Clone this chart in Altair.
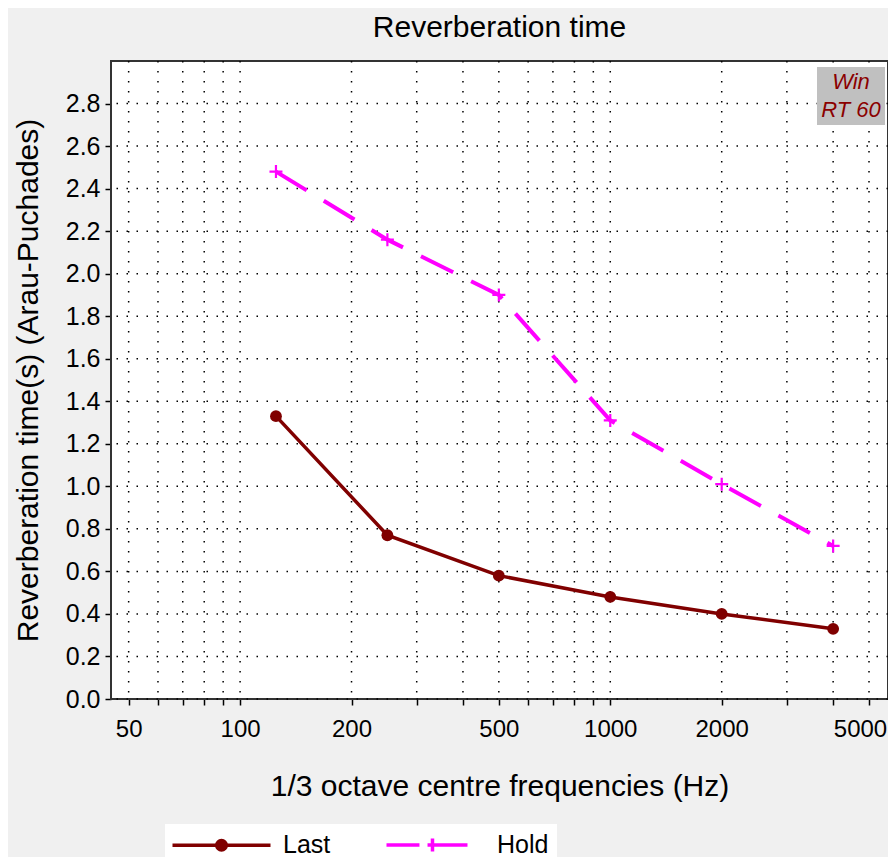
import altair as alt
import pandas as pd

# ---------------- data ----------------
freqs = [125, 250, 500, 1000, 2000, 4000]
last_rt = [1.33, 0.77, 0.58, 0.48, 0.40, 0.33]
hold_rt = [2.48, 2.16, 1.90, 1.31, 1.01, 0.72]
series_names = ["Last", "Hold"]
badge_lines = ["Win", "RT 60"]
x_ticks = [50, 60, 70, 80, 90, 100, 200, 300, 400, 500, 600, 700, 800, 900,
           1000, 2000, 3000, 4000, 5000]
x_labeled = [50, 100, 200, 500, 1000, 2000, 5000]
y_ticks = [0.0, 0.2, 0.4, 0.6, 0.8, 1.0, 1.2, 1.4, 1.6, 1.8, 2.0, 2.2, 2.4, 2.6, 2.8]

df = pd.DataFrame({
    "freq": freqs + freqs,
    "rt": last_rt + hold_rt,
    "series": [series_names[0]] * len(freqs) + [series_names[1]] * len(freqs),
})
badge_df = pd.DataFrame({"badge": badge_lines})
grid_x_df = pd.DataFrame({"freq": x_ticks})
grid_y_df = pd.DataFrame({"rt": y_ticks})
bg_df = pd.DataFrame({"area": ["plot"]})

# ---------------- styles ----------------
MAROON = "#800000"
MAGENTA = "#ff00ff"
FONT = "Liberation Sans"
PLUS = "M-1,0L1,0M0,-1L0,1"
# legend symbols (unit = 7 px)
LEG_LAST = "M-7,0L7,0M-0.68,0a0.68,0.68 0 1,0 1.36,0a0.68,0.68 0 1,0 -1.36,0Z"
LEG_HOLD = "M-7,0L-2.29,0M-1.14,0L4.57,0M-0.43,-0.93L-0.43,0.93"

label_expr = ("indexof([" + ",".join(str(v) for v in x_labeled) +
              "], datum.value) >= 0 ? format(datum.value, 'd') : ''")

x_scale = alt.Scale(type="log", domain=[44.8, 5627], nice=False)
y_scale = alt.Scale(domain=[0, 3.0], nice=False, zero=False)

x_enc = alt.X(
    "freq:Q", scale=x_scale,
    axis=alt.Axis(
        values=x_ticks, labelExpr=label_expr, labelOverlap=False, labelFlush=False,
        labelFont=FONT, labelFontSize=24, labelColor="black", labelPadding=12,
        labelOffset={"condition": {"test": "datum.value == 5000", "value": -9}, "value": 0},
        tickSize=6, tickColor="black", tickWidth=1.5, domain=False, grid=False,
        titleFont=FONT, titleFontSize=30, titleFontWeight="normal",
        titleColor="black", titlePadding=30,
    ),
    title="1/3 octave centre frequencies (Hz)",
)
y_enc = alt.Y(
    "rt:Q", scale=y_scale,
    axis=alt.Axis(
        values=y_ticks, format=".1f", labelOverlap=False, labelFlush=False,
        labelFont=FONT, labelFontSize=25, labelColor="black", labelPadding=5,
        tickSize=6, tickColor="black", tickWidth=1.5, domain=False, grid=False,
        titleFont=FONT, titleFontSize=30, titleFontWeight="normal",
        titleColor="black", titlePadding=22,
    ),
    title="Reverberation time(s) (Arau-Puchades)",
)

# plot-area background and border
plot_bg = alt.Chart(bg_df).mark_rect(
    color="#ffffff", fill="#ffffff", fillOpacity=1, opacity=1,
    stroke="#333333", strokeWidth=2
).encode(x=alt.value(0), x2=alt.value("width"), y=alt.value(0), y2=alt.value("height"))

# dotted grid through the same scales
grid_x = alt.Chart(grid_x_df).mark_rule(
    color="black", strokeWidth=1.5, strokeDash=[1.5, 8.5]).encode(x=x_enc)
grid_y = alt.Chart(grid_y_df).mark_rule(
    color="black", strokeWidth=1.5, strokeDash=[1.5, 8.5]).encode(y=y_enc)

base = alt.Chart(df).encode(x=x_enc, y=y_enc)

hold_line = base.transform_filter("datum.series == 'Hold'").mark_line(
    color=MAGENTA, strokeWidth=4, strokeDash=[36, 20], strokeCap="butt")
hold_pts = base.transform_filter("datum.series == 'Hold'").mark_point(
    shape=PLUS, size=169, filled=False, color=MAGENTA, strokeWidth=2.2, opacity=1)
last_line = base.transform_filter("datum.series == 'Last'").mark_line(
    color=MAROON, strokeWidth=3.5)
last_pts = base.transform_filter("datum.series == 'Last'").mark_circle(
    size=140, color=MAROON, opacity=1)

leg = alt.Legend(
    title=None, orient="none", legendX=54, legendY=763, direction="horizontal",
    fillColor="white", padding=8, symbolSize=196, symbolStrokeWidth=3.5,
    symbolOffset=36, labelOffset=49, labelFont=FONT, labelFontSize=25,
    labelColor="black", columnPadding=48, symbolOpacity=1, symbolFillColor=MAROON,
)
legend_layer = base.mark_point(filled=True, opacity=0).encode(
    fill=alt.Fill("series:N", scale=alt.Scale(domain=series_names, range=[MAROON, MAGENTA]), legend=leg),
    stroke=alt.Stroke("series:N", scale=alt.Scale(domain=series_names, range=[MAROON, MAGENTA]), legend=leg),
    shape=alt.Shape("series:N", scale=alt.Scale(domain=series_names, range=[LEG_LAST, LEG_HOLD]), legend=leg),
)

badge_leg = alt.Legend(
    title=None, orient="none", legendX=706, legendY=6, direction="vertical",
    fillColor="#c0c0c0", padding=4, symbolSize=0, symbolOpacity=0,
    labelFont=FONT, labelFontSize=22, labelFontStyle="italic", labelColor="#8b0000",
    labelAlign="center", labelOffset=8, rowPadding=6,
)
badge_layer = alt.Chart(badge_df).mark_point(opacity=0).encode(
    color=alt.Color("badge:N", scale=alt.Scale(domain=badge_lines, range=["#8b0000", "#8b0000"]),
                    legend=badge_leg)
)

chart = alt.layer(
    plot_bg, grid_x, grid_y, hold_line, hold_pts, last_line, last_pts, legend_layer, badge_layer
).properties(
    width=777, height=638,
    autosize=alt.AutoSizeParams(type="none"),
    padding={"left": 103, "top": 53, "right": 0, "bottom": 158},
    background="#f0f0f0",
    title=alt.TitleParams("Reverberation time", font=FONT, fontSize=30, fontWeight="normal",
                          color="black", offset=17, anchor="middle"),
).configure_view(
    strokeWidth=0
)

chart.save("out.html", embed_options={"renderer": "svg", "actions": False})
